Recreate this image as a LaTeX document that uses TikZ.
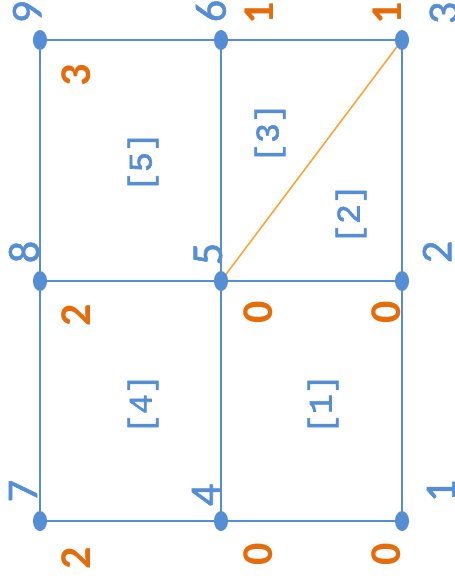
\documentclass[tikz,border=0pt]{standalone}
\usepackage{fontspec}
\setmainfont{Carlito}
\newfontfamily\medf[FakeBold=1.2]{Carlito}
\newfontfamily\monof[FakeBold=1.8]{Liberation Mono}
\usetikzlibrary{shapes.geometric}
\definecolor{bl}{RGB}{85,142,213}
\definecolor{og}{RGB}{228,108,10}
\definecolor{lo}{RGB}{250,165,55}
\begin{document}
\begin{tikzpicture}[x=1pt,y=-1pt,
  dot/.style={ellipse,fill=bl,minimum width=14pt,minimum height=20pt,inner sep=0pt},
  edge/.style={draw=bl,line width=1.6pt},
  nlab/.style={rotate=90,text=bl,font=\medf\fontsize{44}{44}\selectfont,inner sep=0pt},
  olab/.style={rotate=90,text=og,font=\bfseries\fontsize{44}{44}\selectfont,inner sep=0pt},
  elab/.style={rotate=90,text=bl,font=\monof\fontsize{33}{33}\selectfont,inner sep=0pt}]
\useasboundingbox (0,0) rectangle (455,579);
% corner coordinates
\coordinate (p9) at (40,40);
\coordinate (p6) at (221,40);
\coordinate (p3) at (402,40);
\coordinate (p8) at (40,281);
\coordinate (p5) at (221,281);
\coordinate (p2) at (402,281);
\coordinate (p7) at (40,521);
\coordinate (p4) at (221,521);
\coordinate (p1) at (402,521);
% edges
\draw[edge] (p9) -- (p6) -- (p3) -- (p2) -- (p1) -- (p4) -- (p7) -- (p8) -- (p9);
\draw[edge] (p6) -- (p5) -- (p4);
\draw[edge] (p8) -- (p5) -- (p2);
\draw[draw=lo,line width=1.6pt] (p5) -- (p3);
% dots
\foreach \p in {p1,p2,p3,p4,p5,p6,p7,p8,p9}
  \node[dot] (d\p) at (\p) {};
% node numbers
\node[nlab] (n9) at (27,12) {9};
\node[nlab] (n6) at (211,11) {6};
\node[nlab] (n3) at (444,13) {3};
\node[nlab] (n8) at (24,252) {8};
\node[nlab] (n5) at (208,254) {5};
\node[nlab] (n2) at (437,252) {2};
\node[nlab] (n7) at (23,491) {7};
\node[nlab] (n4) at (206,495) {4};
\node[nlab] (n1) at (441,491) {1};
% orange values
\node[olab] (o1a) at (259,13) {1};
\node[olab] (o1b) at (387,13) {1};
\node[olab] (o3) at (76,75) {3};
\node[olab] (o2a) at (76,315) {2};
\node[olab] (o0a) at (258,312) {0};
\node[olab] (o0b) at (386,312) {0};
\node[olab] (o2b) at (76,558) {2};
\node[olab] (o0c) at (258,554) {0};
\node[olab] (o0d) at (386,554) {0};
% element labels
\node[elab] (e5) at (143,162) {[5]};
\node[elab] (e3) at (270,133) {[3]};
\node[elab] (e2) at (351,214) {[2]};
\node[elab] (e4) at (143,404) {[4]};
\node[elab] (e1) at (323,404) {[1]};
\end{tikzpicture}
\end{document}
